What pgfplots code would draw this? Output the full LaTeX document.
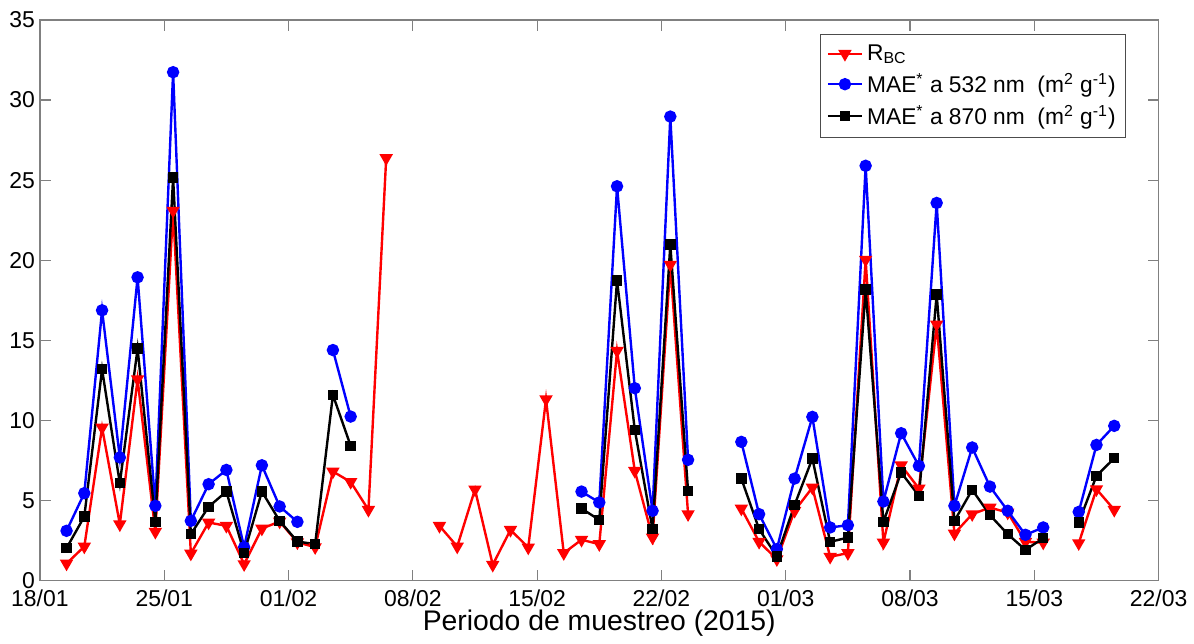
\documentclass[border=0pt]{standalone}
\usepackage{fontspec}
\setmainfont{Liberation Sans}
\usepackage{pgfplots}
\pgfplotsset{compat=1.18}
\begin{document}
\begin{tikzpicture}
\begin{axis}[
  scale only axis, width=560.5pt, height=281pt,
  xmin=0, xmax=63, ymin=0, ymax=35,
  xtick={0,7,14,21,28,35,42,49,56,63},
  xticklabels={18/01,25/01,01/02,08/02,15/02,22/02,01/03,08/03,15/03,22/03},
  ytick={0,5,10,15,20,25,30,35},
  tick align=inside, major tick length=5.5pt,
  axis line style={black!50, line width=0.6pt},
  every tick/.style={black!50, line width=0.6pt},
  tick label style={font=\fontsize{11.5}{13}\selectfont},
  yticklabel style={xshift=1pt},
  xticklabel style={yshift=-1pt},
  /pgf/number format/assume math mode=true,
  xlabel={Periodo de muestreo (2015)},
  xlabel style={font=\fontsize{14.2}{16}\selectfont, yshift=5pt},
  unbounded coords=jump,
  legend cell align=left,
  legend style={at={(0.971,0.975)}, anchor=north east, draw=black!70, line width=0.6pt,
    font=\fontsize{11.4}{13}\selectfont, row sep=1pt, inner sep=3pt},
  every axis plot/.append style={line width=1.2pt},
]
\addplot[red, mark=triangle*, mark size=2.7pt, mark options={rotate=180, solid}] coordinates {
(1.5,1.08)(2.5,2.14)(3.5,9.56)(4.5,3.53)(5.5,12.58)(6.5,3.06)(7.5,23.1)(8.5,1.70)(9.5,3.64)(10.5,3.43)
(11.5,1.04)(12.5,3.26)(13.5,3.70)(14.5,2.40)(15.5,2.10)(16.5,6.82)(17.5,6.17)(18.5,4.43)(19.5,26.38)(20.5,nan)
(22.5,3.43)(23.5,2.14)(24.5,5.70)(25.5,1.00)(26.5,3.18)(27.5,2.08)(28.5,11.33)(29.5,1.73)(30.5,2.56)(31.5,2.29)
(32.5,14.35)(33.5,6.86)(34.5,2.70)(35.5,19.73)(36.5,4.16)(37.5,nan)
(39.5,4.51)(40.5,2.43)(41.5,1.35)(42.5,4.37)(43.5,5.82)(44.5,1.50)(45.5,1.73)(46.5,20.04)(47.5,2.39)(48.5,7.21)
(49.5,5.76)(50.5,16.0)(51.5,2.95)(52.5,4.16)(53.5,4.57)(54.5,4.26)(55.5,2.43)(56.5,2.39)(57.5,nan)
(58.5,2.35)(59.5,5.72)(60.5,4.43)};
\addlegendentry{R\textsubscript{BC}}
\addplot[blue, mark=*, mark size=2.5pt] coordinates {
(1.5,3.12)(2.5,5.47)(3.5,16.88)(4.5,7.7)(5.5,18.94)(6.5,4.68)(7.5,31.74)(8.5,3.74)(9.5,6.03)(10.5,6.92)
(11.5,2.1)(12.5,7.21)(13.5,4.64)(14.5,3.68)(15.5,nan)(16.5,14.4)(17.5,10.25)(18.5,nan)
(30.5,5.57)(31.5,4.89)(32.5,24.62)(33.5,12.02)(34.5,4.37)(35.5,28.97)(36.5,7.55)(37.5,nan)
(39.5,8.67)(40.5,4.16)(41.5,1.98)(42.5,6.38)(43.5,10.23)(44.5,3.33)(45.5,3.47)(46.5,25.9)(47.5,4.95)(48.5,9.21)
(49.5,7.17)(50.5,23.58)(51.5,4.68)(52.5,8.32)(53.5,5.88)(54.5,4.37)(55.5,2.87)(56.5,3.33)(57.5,nan)
(58.5,4.30)(59.5,8.48)(60.5,9.67)};
\addlegendentry{MAE\textsuperscript{*} a 532 nm\ \ (m\textsuperscript{2} g\textsuperscript{-1})}
\addplot[black, mark=square*, mark size=2pt] coordinates {
(1.5,2.04)(2.5,4.01)(3.5,13.2)(4.5,6.09)(5.5,14.49)(6.5,3.68)(7.5,25.17)(8.5,2.91)(9.5,4.62)(10.5,5.57)
(11.5,1.73)(12.5,5.57)(13.5,3.74)(14.5,2.45)(15.5,2.29)(16.5,11.6)(17.5,8.42)(18.5,nan)
(30.5,4.51)(31.5,3.80)(32.5,18.74)(33.5,9.42)(34.5,3.22)(35.5,20.98)(36.5,5.61)(37.5,nan)
(39.5,6.38)(40.5,3.22)(41.5,1.52)(42.5,4.74)(43.5,7.63)(44.5,2.43)(45.5,2.70)(46.5,18.17)(47.5,3.68)(48.5,6.76)
(49.5,5.30)(50.5,17.86)(51.5,3.74)(52.5,5.68)(53.5,4.10)(54.5,2.91)(55.5,1.93)(56.5,2.66)(57.5,nan)
(58.5,3.64)(59.5,6.55)(60.5,7.65)};
\addlegendentry{MAE\textsuperscript{*} a 870 nm\ \ (m\textsuperscript{2} g\textsuperscript{-1})}
\end{axis}
\path (current axis.south west) ++(-20pt,-29pt) coordinate (bl);
\path (current axis.north east) ++(16.5pt,10pt) coordinate (tr);
\path (bl) rectangle (tr);
\end{tikzpicture}
\end{document}
